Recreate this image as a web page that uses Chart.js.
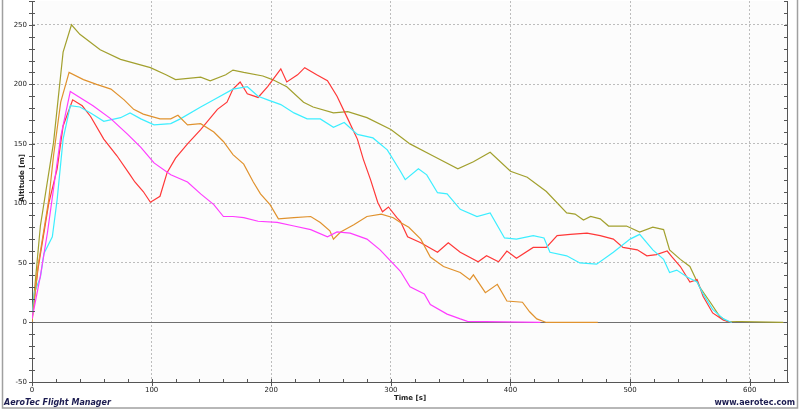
<!DOCTYPE html>
<html>
<head>
<meta charset="utf-8">
<script src="https://cdn.jsdelivr.net/npm/chart.js@4/dist/chart.umd.min.js"></script>
<style>
  html, body { margin: 0; padding: 0; background: #fff; }
  #wrap { width: 800px; height: 410px; }
</style>
</head>
<body>
<div id="wrap"><canvas id="flight" width="800" height="410"></canvas></div>
<script>
// Flugdaten (Zeit in s, Höhe in m)
const oliveT   = [0, 7, 18, 26, 33, 40, 57, 74, 99, 112, 120, 141, 149, 162, 168, 177, 193, 201, 213, 227, 235, 252, 264, 280, 300, 308, 316, 335, 356, 369, 383, 400, 414, 430, 447, 454, 461, 467, 475, 482, 497, 508, 519, 528, 533, 542, 550, 558, 567, 575, 581, 628];
const oliveAlt = [4, 81, 151, 227, 250, 242, 229, 221, 214, 208, 204, 206, 203, 208, 212, 210, 207, 204, 198, 185, 181, 176, 177, 172, 162, 156, 150, 140, 129, 135, 143, 127, 122, 110, 92, 91, 86, 89, 87, 81, 81, 76, 80, 78, 61, 53, 47, 30, 17, 5, 1, 0];

const cyanT   = [0, 2, 7, 10, 17, 21, 26, 32, 40, 49, 60, 74, 82, 91, 102, 116, 124, 141, 152, 168, 180, 189, 197, 208, 219, 230, 241, 252, 261, 272, 285, 297, 308, 312, 323, 330, 339, 347, 358, 372, 383, 395, 405, 419, 428, 433, 447, 458, 472, 486, 500, 508, 519, 528, 533, 539, 548, 556, 561, 569, 578, 585];
const cyanAlt = [4, 25, 38, 58, 72, 103, 154, 182, 181, 176, 169, 172, 176, 171, 166, 167, 171, 181, 187, 196, 198, 190, 187, 183, 176, 171, 171, 164, 168, 158, 155, 145, 127, 120, 129, 124, 109, 108, 95, 89, 92, 71, 70, 73, 71, 59, 56, 50, 49, 59, 70, 74, 61, 53, 42, 44, 38, 34, 24, 11, 3, 0];

const redT   = [0, 5, 14, 21, 26, 34, 42, 49, 60, 71, 82, 86, 93, 99, 107, 113, 120, 130, 141, 155, 163, 168, 174, 180, 189, 197, 208, 213, 222, 228, 238, 247, 255, 264, 272, 277, 283, 289, 293, 298, 305, 308, 314, 325, 339, 348, 358, 373, 380, 390, 397, 405, 419, 430, 439, 450, 464, 475, 486, 494, 506, 514, 522, 531, 535, 542, 550, 556, 561, 569, 578, 585];
const redAlt = [3, 45, 100, 129, 165, 187, 182, 173, 154, 140, 124, 118, 110, 101, 106, 126, 138, 150, 162, 179, 185, 196, 202, 192, 189, 198, 213, 202, 208, 214, 208, 203, 190, 171, 154, 137, 120, 101, 93, 97, 88, 85, 72, 67, 59, 67, 59, 51, 56, 51, 60, 54, 63, 63, 73, 74, 75, 73, 70, 63, 61, 56, 57, 60, 55, 47, 34, 36, 22, 8, 2, 0];

const orangeT   = [0, 5, 14, 18, 24, 31, 43, 54, 66, 77, 85, 93, 107, 116, 122, 130, 141, 152, 160, 168, 177, 185, 191, 199, 206, 219, 233, 241, 249, 252, 258, 269, 280, 292, 302, 308, 315, 325, 333, 344, 358, 366, 369, 379, 389, 397, 410, 416, 422, 430, 473];
const orangeAlt = [0, 47, 103, 140, 185, 210, 204, 200, 196, 187, 179, 175, 171, 171, 174, 166, 167, 160, 152, 141, 133, 118, 108, 99, 87, 88, 89, 84, 77, 70, 76, 82, 89, 91, 88, 84, 80, 70, 55, 47, 42, 36, 40, 25, 32, 18, 17, 9, 3, 0, 0];

const magentaT   = [0, 7, 13, 24, 32, 40, 51, 66, 80, 91, 102, 116, 130, 141, 152, 160, 168, 177, 189, 205, 219, 233, 247, 255, 266, 280, 291, 308, 316, 328, 333, 347, 358, 364, 425];
const magentaAlt = [3, 39, 76, 156, 194, 189, 182, 171, 158, 147, 134, 124, 118, 108, 99, 89, 89, 88, 85, 84, 81, 78, 72, 76, 75, 70, 61, 43, 30, 24, 15, 7, 3, 1, 0];

const xTicks = [0, 100, 200, 300, 400, 500, 600];
const yTicks = [-50, 0, 50, 100, 150, 200, 250];

function toPoints(ts, vs) {
    return ts.map((t, i) => ({ x: t, y: vs[i] }));
}

function serie(ts, vs, color) {
    return {
        data: toPoints(ts, vs),
        borderColor: color,
        borderWidth: 1.2,
        pointRadius: 0,
        fill: false,
        tension: 0
    };
}

const tickFont = { family: 'DejaVu Sans', size: 7 };

// Rahmen, Nulllinie, Nebenteilung und Beschriftung
const deko = {
    id: 'deko',
    beforeDraw(chart) {
        const c = chart.ctx, a = chart.chartArea;
        c.save();
        c.fillStyle = '#ffffff';
        c.fillRect(0, 0, chart.width, chart.height);
        c.fillStyle = '#fcfcfc';
        c.fillRect(a.left, a.top, a.right - a.left, a.bottom - a.top);
        c.restore();
    },
    beforeDatasetsDraw(chart) {
        const c = chart.ctx, a = chart.chartArea;
        const y0 = Math.round(chart.scales.y.getPixelForValue(0)) + 0.5;
        c.save();
        c.strokeStyle = '#707070';
        c.lineWidth = 1;
        c.beginPath();
        c.moveTo(a.left, y0);
        c.lineTo(a.right, y0);
        c.stroke();
        c.restore();
    },
    afterDraw(chart) {
        const c = chart.ctx, a = chart.chartArea;
        const xs = chart.scales.x, ys = chart.scales.y;
        c.save();
        c.strokeStyle = '#555';
        c.lineWidth = 1;
        c.beginPath();
        // rechte Achse
        c.moveTo(Math.round(a.right) - 0.5, a.top);
        c.lineTo(Math.round(a.right) - 0.5, a.bottom);
        for (let v = 0; v <= 620; v += 20) {
            const px = Math.round(xs.getPixelForValue(v)) + 0.5;
            c.moveTo(px, a.bottom - 3);
            c.lineTo(px, a.bottom + (v % 100 === 0 ? 4 : 1));
        }
        for (let v = -50; v <= 270; v += 10) {
            const py = Math.round(ys.getPixelForValue(v)) + 0.5;
            c.moveTo(a.left - 3, py);
            c.lineTo(a.left + 3, py);
            c.moveTo(a.right - 4, py);
            c.lineTo(a.right, py);
        }
        c.stroke();

        c.fillStyle = '#222';
        c.font = 'bold 7px "DejaVu Sans"';
        c.textAlign = 'center';
        c.textBaseline = 'middle';
        c.fillText('Time [s]', (a.left + a.right) / 2, 398);
        c.save();
        c.translate(22, 178);
        c.rotate(-Math.PI / 2);
        c.fillText('Altitude [m]', 0, 0);
        c.restore();

        c.fillStyle = '#1c1c50';
        c.font = 'italic bold 8px "DejaVu Sans"';
        c.textAlign = 'left';
        c.textBaseline = 'alphabetic';
        c.fillText('AeroTec Flight Manager', 4, 405);
        c.font = 'bold 8px "DejaVu Sans"';
        c.textAlign = 'right';
        c.fillText('www.aerotec.com', 795, 405);

        c.strokeStyle = '#a0a0a0';
        c.lineWidth = 1.5;
        c.strokeRect(2.5, -2, 795, 410);
        c.restore();
    }
};

const ctx = document.getElementById('flight').getContext('2d');
new Chart(ctx, {
    type: 'line',
    data: {
        datasets: [
            serie(magentaT, magentaAlt, '#ff3cff'),
            serie(orangeT, orangeAlt, '#e0922e'),
            serie(cyanT, cyanAlt, '#3ceeff'),
            serie(redT, redAlt, '#ff3838'),
            serie(oliveT, oliveAlt, '#a2a02e')
        ]
    },
    options: {
        responsive: false,
        animation: false,
        layout: { padding: { left: 2, right: 12, top: 1, bottom: 0 } },
        plugins: {
            legend: { display: false },
            tooltip: { enabled: false }
        },
        scales: {
            x: {
                type: 'linear',
                min: 0,
                max: 632,
                afterFit: s => { s.height = 28; s.paddingLeft = 0; s.paddingRight = 0; },
                afterBuildTicks: s => { s.ticks = xTicks.map(v => ({ value: v })); },
                ticks: { font: tickFont, color: '#222', padding: 4, maxRotation: 0 },
                grid: { color: '#bdbdbd', drawTicks: false },
                border: { color: '#555', width: 1, dash: [2, 2] }
            },
            y: {
                type: 'linear',
                min: -50,
                max: 270,
                afterFit: s => { s.width = 30; s.paddingTop = 0; s.paddingBottom = 0; },
                afterBuildTicks: s => { s.ticks = yTicks.map(v => ({ value: v })); },
                ticks: { font: tickFont, color: '#222', padding: 5 },
                grid: {
                    color: c => (c.tick && c.tick.value === 0 ? 'rgba(0,0,0,0)' : '#bdbdbd'),
                    drawTicks: false
                },
                border: { color: '#555', width: 1, dash: [2, 2] }
            }
        }
    },
    plugins: [deko]
});
</script>
</body>
</html>
